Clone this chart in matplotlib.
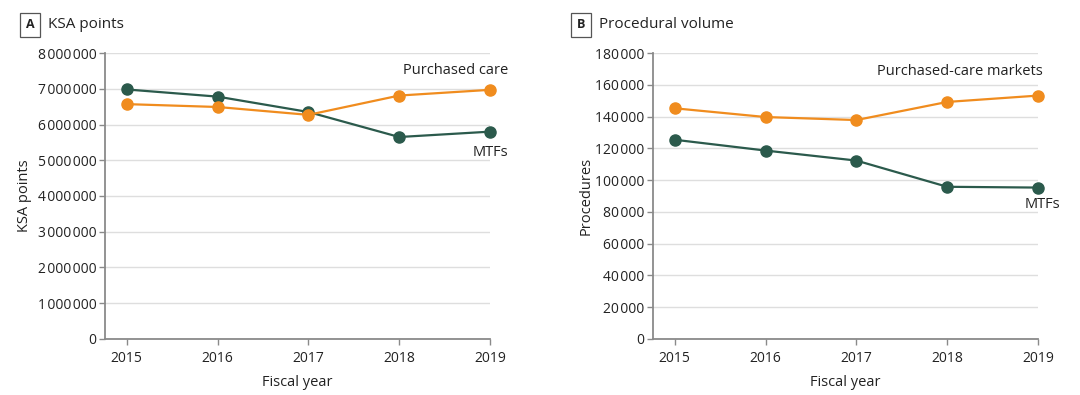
import matplotlib
matplotlib.use('Agg')
import matplotlib.pyplot as plt
from matplotlib.ticker import FuncFormatter

plt.rcParams['font.family'] = ['Open Sans', 'DejaVu Sans']

years = [2015, 2016, 2017, 2018, 2019]

# panel A: KSA points
ksa_mtf = [6980000, 6780000, 6350000, 5650000, 5800000]
ksa_purchased = [6570000, 6490000, 6270000, 6810000, 6970000]

# panel B: procedures
proc_mtf = [125400, 118600, 112300, 95800, 95300]
proc_purchased = [145200, 139700, 137800, 149200, 153200]

green = '#2b5a4c'
orange = '#f08c1e'
grid_c = '#dedede'
spine_c = '#8a8a8a'
text_c = '#222222'


def thin_fmt(v, pos):
    s = '{:,}'.format(int(v))
    return s.replace(',', '\u200a')


fig = plt.figure(figsize=(10.8, 3.95), dpi=100)
axA = fig.add_axes([0.0972, 0.1418, 0.3565, 0.724])
axB = fig.add_axes([0.6046, 0.1418, 0.3565, 0.724])


def style(ax, ymax, ystep):
    ax.set_xlim(2014.76, 2019)
    ax.set_ylim(0, ymax)
    ax.set_yticks(range(0, ymax + 1, ystep))
    ax.set_xticks(years)
    ax.yaxis.set_major_formatter(FuncFormatter(thin_fmt))
    for s in ['top', 'right']:
        ax.spines[s].set_visible(False)
    for s in ['left', 'bottom']:
        ax.spines[s].set_color(spine_c)
        ax.spines[s].set_linewidth(1.3)
    ax.grid(axis='y', color=grid_c, linewidth=1)
    ax.set_axisbelow(True)
    ax.tick_params(axis='both', colors=spine_c, labelcolor=text_c,
                   labelsize=10, length=4, width=1)
    ax.tick_params(axis='x', pad=5)
    ax.tick_params(axis='y', pad=2)
    ax.set_xlabel('Fiscal year', fontsize=10.5, color=text_c, labelpad=6)


style(axA, 8000000, 1000000)
style(axB, 180000, 20000)

axA.plot(years, ksa_mtf, color=green, lw=1.6, marker='o', ms=8, clip_on=False, zorder=3)
axA.plot(years, ksa_purchased, color=orange, lw=1.6, marker='o', ms=8, clip_on=False, zorder=4)
axB.plot(years, proc_purchased, color=orange, lw=1.6, marker='o', ms=8, clip_on=False, zorder=4)
axB.plot(years, proc_mtf, color=green, lw=1.6, marker='o', ms=8, clip_on=False, zorder=3)

axA.set_ylabel('KSA points', fontsize=10.5, color=text_c)
axB.set_ylabel('Procedures', fontsize=10.5, color=text_c)
axA.yaxis.set_label_coords(-0.19, 0.5)
axB.yaxis.set_label_coords(-0.153, 0.5)

axA.text(2019.2, 7500000, 'Purchased care', ha='right', va='center', fontsize=10.5, color=text_c)
axA.text(2019.2, 5230000, 'MTFs', ha='right', va='center', fontsize=10.5, color=text_c)
axB.text(2019.05, 168500, 'Purchased-care markets', ha='right', va='center', fontsize=10.5, color=text_c)
axB.text(2019.25, 84700, 'MTFs', ha='right', va='center', fontsize=10.5, color=text_c)

# panel labels
for x, letter, title in [(0.0278, 'A', 'KSA points'), (0.5380, 'B', 'Procedural volume')]:
    fig.text(x, 0.937, letter, ha='center', va='center', fontsize=9, fontweight='bold',
             color=text_c,
             bbox=dict(boxstyle='square,pad=0.45', fc='white', ec='#555555', lw=0.9))
    fig.text(x + 0.0165, 0.937, title, ha='left', va='center', fontsize=11, color=text_c)

fig.savefig('out.png', dpi=100)
